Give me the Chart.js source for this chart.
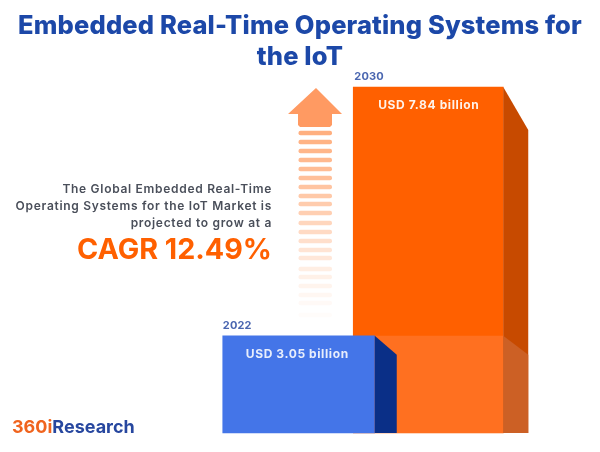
<!DOCTYPE html>
<html>
<head>
<meta charset="utf-8">
<title>Embedded Real-Time Operating Systems for the IoT</title>
<script src="https://cdn.jsdelivr.net/npm/chart.js@4"></script>
<style>
  html, body { margin: 0; padding: 0; background: #fff; }
  #wrap { width: 600px; height: 452px; position: relative; }
</style>
</head>
<body>
<div id="wrap"><canvas id="marketChart" width="600" height="452"></canvas></div>
<script>
const years = ['2022', '2030'];
const values = [3.05, 7.84];
const valueLabels = ['USD 3.05 billion', 'USD 7.84 billion'];
const titleLines = ['Embedded Real-Time Operating Systems for', 'the IoT'];
const blurbLines = ['The Global Embedded Real-Time', 'Operating Systems for the IoT Market is', 'projected to grow at a'];
const cagrLabel = 'CAGR 12.49%';

const FONT = 'Inter, "Open Sans", sans-serif';
const ORANGE = '#ff6000';
const BLUE = '#4475e8';
const AXIS_MIN = 1.18;

// fading stripes under the arrow: y centre and opacity
const stripeY = [133, 142, 151, 160, 169, 178, 187, 196, 204, 213, 223, 232, 241, 250, 258, 269, 277, 286, 295, 303, 315];
const stripeAlpha = [.5, .48, .46, .44, .42, .4, .37, .34, .32, .3, .26, .23, .2, .17, .15, .11, .09, .07, .05, .035, .02];

function drawText(ctx, text, x, y, font, color, align, spacing) {
    ctx.save();
    ctx.font = font;
    ctx.fillStyle = color;
    ctx.textAlign = align || 'left';
    ctx.textBaseline = 'middle';
    ctx.letterSpacing = spacing || '0px';
    ctx.fillText(text, x, y);
    ctx.restore();
}

function poly(ctx, pts, color) {
    ctx.fillStyle = color;
    ctx.beginPath();
    pts.forEach((p, i) => i ? ctx.lineTo(p[0], p[1]) : ctx.moveTo(p[0], p[1]));
    ctx.closePath();
    ctx.fill();
}

const decorPlugin = {
    id: 'decor',
    afterDatasetsDraw(chart) {
        const ctx = chart.ctx;
        const low = chart.getDatasetMeta(0).data[0];
        const high = chart.getDatasetMeta(1).data[1];
        const lowR = low.x + low.width / 2, lowL = low.x - low.width / 2;
        const highR = high.x + high.width / 2, highL = high.x - high.width / 2;
        const base = chart.scales.y.bottom;

        // side faces
        poly(ctx, [[highR, high.y], [highR + 25, high.y + 43], [highR + 25, base], [highR, base]], '#c74a00');
        // lighter lower part of the tall bar
        poly(ctx, [[lowR, low.y], [highR, low.y], [highR, base], [lowR, base]], '#ff7020');
        poly(ctx, [[highR, low.y], [highR + 25, low.y + 19], [highR + 25, base], [highR, base]], '#cc6025');
        poly(ctx, [[lowR, low.y], [lowR + 22, low.y + 19], [lowR + 22, base], [lowR, base]], '#0a2f87');

        // arrow
        poly(ctx, [[316, 88], [342, 114], [332, 114], [332, 125], [330, 127], [300, 127], [298, 125], [298, 114], [288, 114]], '#ff9a62');
        stripeY.forEach((y, i) => {
            ctx.fillStyle = 'rgba(255,96,0,' + stripeAlpha[i] + ')';
            ctx.beginPath();
            ctx.roundRect(298.5, y - 2.25, 33.5, 4.5, 2);
            ctx.fill();
        });

        // bar labels
        drawText(ctx, years[0], lowL, 325.5, 'bold 11px ' + FONT, '#4a66b0', 'left', '0.2px');
        drawText(ctx, years[1], highL + 1, 77, 'bold 11px ' + FONT, '#4a66b0', 'left', '0.2px');
        drawText(ctx, valueLabels[0], low.x - 1.5, 354, 'bold 12px ' + FONT, '#e8eefc', 'center', '0.6px');
        drawText(ctx, valueLabels[1], high.x + 0.5, 105.5, 'bold 12px ' + FONT, '#fff3ea', 'center', '0.6px');

        // title
        drawText(ctx, titleLines[0], 300, 26, '800 25.5px ' + FONT, '#1c48a8', 'center', '0.15px');
        drawText(ctx, titleLines[1], 300, 57, '800 25.5px ' + FONT, '#1c48a8', 'center', '0.15px');

        // left text block
        blurbLines.forEach((line, i) => {
            drawText(ctx, line, 272, 189 + i * 17.3, '600 12px ' + FONT, '#4a4f5a', 'right', '0.7px');
        });
        drawText(ctx, cagrLabel, 272, 250.5, 'bold 28.7px ' + FONT, ORANGE, 'right');

        // logo
        ctx.save();
        ctx.font = 'bold 18px ' + FONT;
        const w = ctx.measureText('360i').width;
        ctx.restore();
        drawText(ctx, '360i', 12, 427.5, 'bold 18px ' + FONT, '#f0641e');
        drawText(ctx, 'Research', 12 + w, 427.5, 'bold 18px ' + FONT, '#27479f');
    }
};

new Chart(document.getElementById('marketChart').getContext('2d'), {
    type: 'bar',
    data: {
        labels: years,
        datasets: [
            { label: years[0], data: [values[0], null], backgroundColor: BLUE, barThickness: 152, grouped: false, base: AXIS_MIN, clip: false },
            { label: years[1], data: [null, values[1]], backgroundColor: ORANGE, barThickness: 150, grouped: false, base: AXIS_MIN, clip: false }
        ]
    },
    plugins: [decorPlugin],
    options: {
        responsive: false,
        animation: false,
        layout: { padding: { left: 234, right: 107, top: 87, bottom: 19 } },
        plugins: { legend: { display: false }, tooltip: { enabled: false } },
        scales: {
            x: { display: false },
            y: { display: false, min: AXIS_MIN, max: 7.84 }
        }
    }
});
</script>
</body>
</html>
